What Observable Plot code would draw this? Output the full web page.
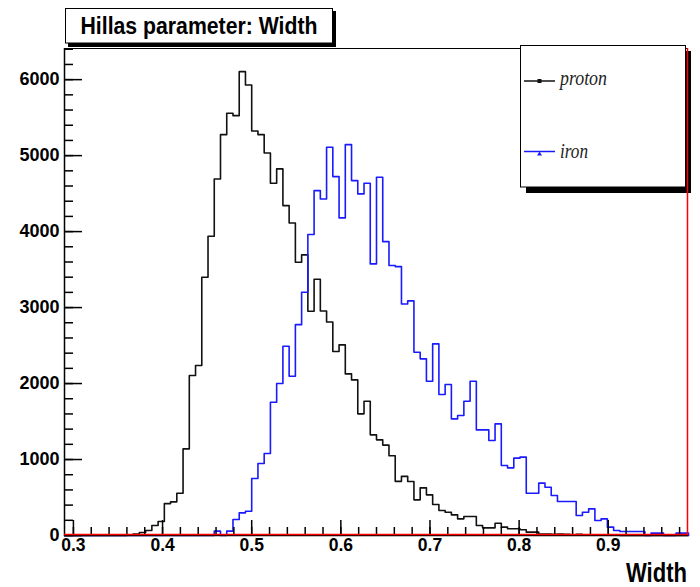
<!DOCTYPE html>
<html><head><meta charset="utf-8">
<script src="https://cdn.jsdelivr.net/npm/d3@7"></script>
<script src="https://cdn.jsdelivr.net/npm/@observablehq/plot@0.6"></script>
<style>body{margin:0;background:#fff} svg{display:block}</style>
</head><body><div id="chart"></div>
<script>
// Histogram binning (100 bins from 0.29 to 0.99)
const binStart = 0.29;
const binWidth = 0.007;
const xDomain = [0.29, 0.99];
const yDomain = [0, 6410];

const proton = [
  0, 0, 0, 0, 0, 0, 0, 0, 0, 0,
  5, 20, 40, 66, 132, 185, 420, 443, 557, 1140,
  2105, 2237, 3399, 3939, 4693, 5276, 5557, 5526, 6105, 5930,
  5325, 5276, 5035, 4636, 4825, 4342, 4114, 3596, 3693, 2952,
  3373, 2955, 2810, 2421, 2509, 2127, 2048, 1601, 1768, 1325,
  1259, 1190, 1050, 713, 778, 711, 469, 627, 535, 408,
  329, 307, 272, 219, 250, 250, 132, 101, 101, 162,
  110, 88, 88, 75, 44, 44, 20, 20, 15, 20,
  15, 10, 15, 10, 10, 8, 5, 5, 3, 0,
  0, 0, 0, 0, 0, 0, 0, 0, 0, 0
];
const iron = [
  0, 0, 0, 0, 0, 0, 0, 0, 0, 0,
  0, 0, 0, 0, 0, 0, 0, 0, 0, 0,
  0, 0, 0, 0, 57, 0, 57, 210, 298, 320,
  750, 947, 1079, 1754, 2000, 2491, 2096, 2775, 3202, 3961,
  4539, 4430, 5110, 4724, 4180, 5145, 4671, 4496, 4636, 3575,
  4715, 3868, 3553, 3539, 3048, 3088, 2412, 2325, 2031, 2522,
  1855, 1987, 1535, 1579, 1768, 2031, 1390, 1390, 1250, 1469,
  921, 890, 1018, 1031, 557, 557, 689, 636, 526, 447,
  447, 447, 263, 307, 351, 197, 219, 110, 66, 53,
  53, 53, 53, 0, 31, 31, 0, 0, 31, 31
];
const seriesNames = ["proton", "iron"];
const seriesColors = ["#111111", "#1a1aff"];

const xMajorTicks = [0.3, 0.4, 0.5, 0.6, 0.7, 0.8, 0.9];
const xMinorTicks = [0.30,0.32,0.34,0.36,0.38,0.40,0.42,0.44,0.46,0.48,0.50,0.52,0.54,0.56,0.58,0.60,0.62,0.64,0.66,0.68,0.70,0.72,0.74,0.76,0.78,0.80,0.82,0.84,0.86,0.88,0.90,0.92,0.94,0.96,0.98];
const yMajorTicks = [0, 1000, 2000, 3000, 4000, 5000, 6000];
const yMinorTicks = [0,200,400,600,800,1000,1200,1400,1600,1800,2000,2200,2400,2600,2800,3000,3200,3400,3600,3800,4000,4200,4400,4600,4800,5000,5200,5400,5600,5800,6000,6200,6400];
const xTickLabels = ["0.3", "0.4", "0.5", "0.6", "0.7", "0.8", "0.9"];
const yTickLabels = ["0", "1000", "2000", "3000", "4000", "5000", "6000"];
const titleText = "Hillas parameter: Width";
const xAxisTitle = "Width";

function steps(vals) {
  const pts = vals.map((v, i) => ({x: binStart + i * binWidth, y: v}));
  pts.push({x: binStart + vals.length * binWidth, y: 0});
  return pts;
}

const W = 700, H = 587, mL = 64, mR = 12, mT = 48, mB = 52;
const fw = W - mL - mR, fh = H - mT - mB;
const sans = "'Liberation Sans', Arial, Helvetica, sans-serif";

const svg = Plot.plot({
  width: W, height: H,
  marginLeft: mL, marginRight: mR, marginTop: mT, marginBottom: mB,
  x: {domain: xDomain, axis: null},
  y: {domain: yDomain, axis: null},
  style: {fontFamily: sans, background: "#fff"},
  marks: [
    Plot.lineY(steps(proton), {x: "x", y: "y", curve: "step-after", stroke: seriesColors[0], strokeWidth: 1.6}),
    Plot.lineY(steps(iron), {x: "x", y: "y", curve: "step-after", stroke: seriesColors[1], strokeWidth: 1.6}),
    Plot.ruleY(yMajorTicks, {y: d => d, insetRight: fw - 18, stroke: "#000", strokeWidth: 1.5}),
    Plot.ruleY(yMinorTicks, {y: d => d, insetRight: fw - 9, stroke: "#000", strokeWidth: 1.5}),
    Plot.ruleX(xMajorTicks, {x: d => d, insetTop: fh - 15, stroke: "#000", strokeWidth: 1.5}),
    Plot.ruleX(xMinorTicks, {x: d => d, insetTop: fh - 8, stroke: "#000", strokeWidth: 1.5}),
    Plot.ruleX([xDomain[0]], {stroke: "#000", strokeWidth: 1.5}),
    Plot.ruleY([yDomain[1]], {stroke: "#000", strokeWidth: 1.2}),
    Plot.ruleY([0], {stroke: "#000", strokeWidth: 1.5}),
    Plot.ruleY([0], {stroke: "#ff0000", strokeWidth: 1.5, dy: -1}),
    Plot.text(yMajorTicks, {y: d => d, frameAnchor: "left", dx: -5, textAnchor: "end",
      text: (d, i) => yTickLabels[i], fontSize: 18, fontWeight: "bold", fill: "#000"}),
    Plot.text(xMajorTicks, {x: d => d, frameAnchor: "bottom", dy: 15,
      text: (d, i) => xTickLabels[i], fontSize: 17.5, fontWeight: "bold", fill: "#000"})
  ]
});
document.getElementById("chart").appendChild(svg);

const root = d3.select(svg);
// Title box with shadow
root.append("rect").attr("x", 68).attr("y", 11).attr("width", 268).attr("height", 36).attr("fill", "#000");
root.append("rect").attr("x", 65.5).attr("y", 8.5).attr("width", 267).attr("height", 34.5)
  .attr("fill", "#fff").attr("stroke", "#000").attr("stroke-width", 1);
root.append("text").attr("x", 199).attr("y", 33.5).attr("text-anchor", "middle")
  .attr("font-family", sans).attr("font-weight", "bold").attr("font-size", 23)
  .attr("textLength", 237).attr("lengthAdjust", "spacingAndGlyphs").attr("fill", "#000")
  .text(titleText);

// Legend box with shadow
root.append("rect").attr("x", 526).attr("y", 51).attr("width", 165).attr("height", 142).attr("fill", "#000");
root.append("rect").attr("x", 520.5).attr("y", 45.5).attr("width", 165).attr("height", 141.5)
  .attr("fill", "#fff").attr("stroke", "#000").attr("stroke-width", 1);
const legendRows = [
  {name: seriesNames[0], color: seriesColors[0], ly: 81, ty: 85, len: 47, marker: "square"},
  {name: seriesNames[1], color: seriesColors[1], ly: 151.5, ty: 158, len: 28, marker: "triangle"}
];
legendRows.forEach(r => {
  root.append("line").attr("x1", 524).attr("x2", 555).attr("y1", r.ly).attr("y2", r.ly)
    .attr("stroke", r.color).attr("stroke-width", 1.5);
  if (r.marker === "square") {
    root.append("rect").attr("x", 537.5).attr("y", r.ly - 2).attr("width", 4).attr("height", 4).attr("fill", r.color);
  } else {
    root.append("path").attr("d", `M539.5,${r.ly} l-2.5,4 l5,0 z`).attr("fill", r.color);
  }
  root.append("text").attr("x", 560).attr("y", r.ty).attr("text-anchor", "start")
    .attr("font-family", "'Liberation Serif', 'Times New Roman', serif").attr("font-style", "italic")
    .attr("font-size", 21).attr("textLength", r.len).attr("lengthAdjust", "spacingAndGlyphs")
    .attr("fill", "#222").text(r.name);
});

// Right frame edge (red) drawn over the legend shadow
root.append("line").attr("x1", 687.5).attr("x2", 687.5).attr("y1", mT).attr("y2", H - mB)
  .attr("stroke", "#ff0000").attr("stroke-width", 1.5);

// X axis title
root.append("text").attr("x", 687).attr("y", 582).attr("text-anchor", "end")
  .attr("font-family", sans).attr("font-weight", "bold").attr("font-size", 27)
  .attr("textLength", 61).attr("lengthAdjust", "spacingAndGlyphs").attr("fill", "#000")
  .text(xAxisTitle);
</script>
</body></html>
